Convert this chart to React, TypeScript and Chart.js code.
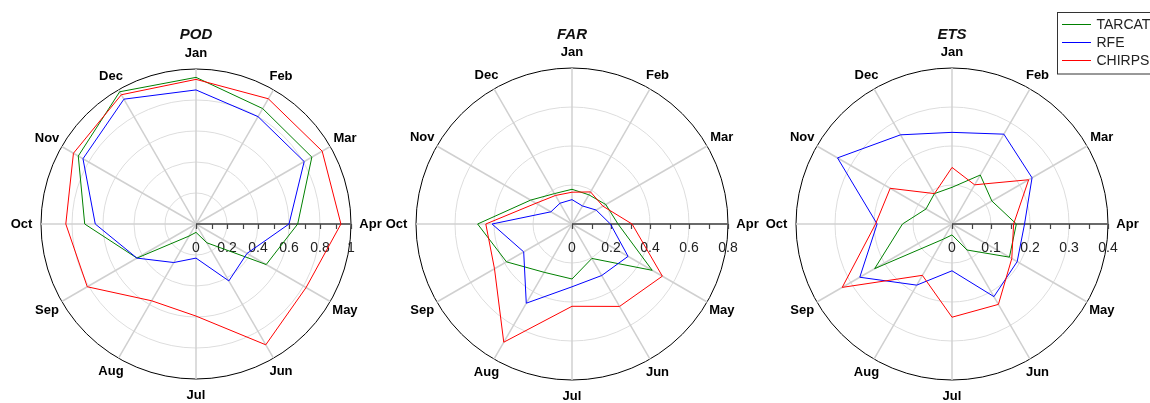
import React, { useEffect, useRef } from 'react';
import { Chart, registerables } from 'chart.js';

Chart.register(...registerables);

// ---------- data ----------
const MONTHS = ['Jan', 'Feb', 'Mar', 'Apr', 'May', 'Jun', 'Jul', 'Aug', 'Sep', 'Oct', 'Nov', 'Dec'];
const SERIES_NAMES = ['TARCAT', 'RFE', 'CHIRPS'];
const SERIES_COLORS = ['#008000', '#0000ff', '#ff0000'];

const POD_TARCAT = [0.946, 0.86, 0.863, 0.656, 0.523, 0.14, 0.054, 0.09, 0.44, 0.718, 0.877, 0.985];
const POD_RFE = [0.865, 0.8, 0.806, 0.6, 0.38, 0.424, 0.22, 0.287, 0.44, 0.65, 0.842, 0.93];
const POD_CHIRPS = [0.933, 0.933, 0.94, 0.935, 0.82, 0.9, 0.594, 0.572, 0.81, 0.84, 0.913, 0.963];

const FAR_TARCAT = [0.178, 0.173, 0.2, 0.236, 0.475, 0.204, 0.282, 0.286, 0.388, 0.484, 0.245, 0.18];
const FAR_RFE = [0.125, 0.107, 0.143, 0.197, 0.332, 0.305, 0.322, 0.469, 0.286, 0.41, 0.125, 0.123];
const FAR_CHIRPS = [0.163, 0.19, 0.183, 0.308, 0.535, 0.488, 0.422, 0.7, 0.459, 0.442, 0.213, 0.169];

const ETS_TARCAT = [0.094, 0.145, 0.118, 0.165, 0.17, 0.077, 0.028, 0.045, 0.229, 0.127, 0.077, 0.09];
const ETS_RFE = [0.235, 0.266, 0.237, 0.186, 0.193, 0.215, 0.12, 0.181, 0.273, 0.192, 0.339, 0.264];
const ETS_CHIRPS = [0.145, 0.116, 0.227, 0.158, 0.177, 0.238, 0.239, 0.152, 0.325, 0.196, 0.183, 0.09];

const POD_TICKS = [0, 0.2, 0.4, 0.6, 0.8, 1];
const POD_TICK_LABELS = ['0', '0.2', '0.4', '0.6', '0.8', '1'];
const FAR_TICKS = [0, 0.2, 0.4, 0.6, 0.8];
const FAR_TICK_LABELS = ['0', '0.2', '0.4', '0.6', '0.8'];
const ETS_TICKS = [0, 0.1, 0.2, 0.3, 0.4];
const ETS_TICK_LABELS = ['0', '0.1', '0.2', '0.3', '0.4'];

// ---------- layout / style ----------
const FONT_FAMILY = "Arial, 'Liberation Sans', sans-serif";
const CANVAS_H = 448;
const SIDE_PAD = 44;
// distance of month-label centres beyond the outer circle, by |angle| step (0°,30°,60°,90°)
const LABEL_OFFSETS = [16, 15, 17, 19.5];

const PANELS = [
  { title: 'POD', series: [POD_TARCAT, POD_RFE, POD_CHIRPS], ticks: POD_TICKS, tickLabels: POD_TICK_LABELS, minor: 0.1, cx: 196, R: 155, legend: false },
  { title: 'FAR', series: [FAR_TARCAT, FAR_RFE, FAR_CHIRPS], ticks: FAR_TICKS, tickLabels: FAR_TICK_LABELS, minor: 0.1, cx: 572, R: 156, legend: false },
  { title: 'ETS', series: [ETS_TARCAT, ETS_RFE, ETS_CHIRPS], ticks: ETS_TICKS, tickLabels: ETS_TICK_LABELS, minor: 0.05, cx: 952, R: 156, legend: true },
];

function geometry(p: any) {
  const left = p.cx - p.R - SIDE_PAD;
  const width = p.legend ? 1150 - left : 2 * p.R + 2 * SIDE_PAD;
  const padR = width - SIDE_PAD - 2 * p.R;
  return { left, width, padL: SIDE_PAD, padR };
}

const radarDecor = {
  id: 'radarDecor',
  beforeDatasetsDraw(chart: any, _args: any, opts: any) {
    const s = chart.scales.r;
    const ctx = chart.ctx;
    const cx = s.xCenter;
    const cy = s.yCenter;
    ctx.save();
    // radial axis along the Apr direction
    ctx.strokeStyle = '#444';
    ctx.lineWidth = 1.5;
    ctx.beginPath();
    ctx.moveTo(cx, cy);
    ctx.lineTo(cx + s.drawingArea, cy);
    ctx.stroke();
    ctx.lineWidth = 1.2;
    ctx.beginPath();
    const n = Math.round(s.max / opts.minor);
    for (let i = 0; i <= n; i++) {
      const x = Math.round(cx + s.getDistanceFromCenterForValue(i * opts.minor)) + 0.5;
      ctx.moveTo(x, cy);
      ctx.lineTo(x, cy + 5);
    }
    ctx.stroke();
    ctx.fillStyle = '#222';
    ctx.font = `14px ${FONT_FAMILY}`;
    ctx.textAlign = 'center';
    ctx.textBaseline = 'middle';
    opts.ticks.forEach((v: number, i: number) => {
      ctx.fillText(opts.labels[i], cx + s.getDistanceFromCenterForValue(v), cy + 24);
    });
    // month labels
    ctx.fillStyle = '#000';
    ctx.font = `bold 13px ${FONT_FAMILY}`;
    chart.data.labels.forEach((lab: string, i: number) => {
      const k = i % 6;
      const off = LABEL_OFFSETS[Math.min(k, 6 - k)];
      const pos = s.getPointPosition(i, s.drawingArea + off);
      ctx.fillText(lab, pos.x, pos.y);
    });
    ctx.restore();
  },
  afterDraw(chart: any, _args: any, opts: any) {
    const s = chart.scales.r;
    const ctx = chart.ctx;
    ctx.save();
    ctx.fillStyle = '#111';
    ctx.font = `italic bold 15px ${FONT_FAMILY}`;
    ctx.textAlign = 'center';
    ctx.textBaseline = 'middle';
    ctx.fillText(opts.title, s.xCenter, 35);
    if (opts.legendX != null) {
      const x = opts.legendX;
      ctx.strokeStyle = '#333';
      ctx.lineWidth = 1;
      ctx.strokeRect(x + 0.5, 12.5, 200, 61.5);
      const ys = [23.7, 42, 60.3];
      chart.data.datasets.forEach((d: any, i: number) => {
        ctx.strokeStyle = d.borderColor;
        ctx.beginPath();
        ctx.moveTo(x + 5, Math.round(ys[i]) + 0.5);
        ctx.lineTo(x + 34, Math.round(ys[i]) + 0.5);
        ctx.stroke();
        ctx.fillStyle = '#222';
        ctx.font = `14px ${FONT_FAMILY}`;
        ctx.textAlign = 'left';
        ctx.textBaseline = 'middle';
        ctx.fillText(d.label, x + 39.5, ys[i] + 1);
      });
    }
    ctx.restore();
  },
};

export default function App() {
  const refs = [useRef<HTMLCanvasElement>(null), useRef<HTMLCanvasElement>(null), useRef<HTMLCanvasElement>(null)];
  const geos = PANELS.map(geometry);

  useEffect(() => {
    const charts = PANELS.map((p, k) => {
      const g = geos[k];
      const max = p.ticks[p.ticks.length - 1];
      return new Chart(refs[k].current!, {
        type: 'radar',
        data: {
          labels: MONTHS,
          datasets: p.series.map((vals, i) => ({
            label: SERIES_NAMES[i],
            data: vals,
            borderColor: SERIES_COLORS[i],
            backgroundColor: SERIES_COLORS[i],
            borderWidth: 1,
            fill: false,
            pointRadius: 0,
            order: 3 - i,
          })),
        },
        options: {
          animation: false,
          responsive: false,
          maintainAspectRatio: false,
          layout: { padding: { left: g.padL, right: g.padR, top: 0, bottom: 0 } },
          plugins: {
            legend: { display: false },
            title: { display: false },
            tooltip: { enabled: false },
            radarDecor: {
              title: p.title,
              ticks: p.ticks,
              labels: p.tickLabels,
              minor: p.minor,
              legendX: p.legend ? 1057 - g.left : null,
            },
          } as any,
          elements: { line: { tension: 0 } },
          scales: {
            r: {
              min: 0,
              max,
              startAngle: 0,
              afterBuildTicks: (scale: any) => {
                scale.ticks = p.ticks.map((v) => ({ value: v }));
              },
              ticks: { display: false },
              grid: {
                circular: true,
                lineWidth: 1,
                color: (c: any) => (c.tick && c.tick.value >= max - 1e-9 ? '#000' : '#dddddd'),
              },
              angleLines: { color: '#d0d0d0', lineWidth: 1.5 },
              pointLabels: { display: false },
            } as any,
          },
        },
        plugins: [radarDecor as any],
      });
    });
    return () => charts.forEach((c) => c.destroy());
  }, []);

  return (
    <div style={{ position: 'absolute', left: 0, top: 0, width: 1150, height: 403, overflow: 'hidden', background: '#fff' }}>
      {PANELS.map((p, k) => (
        <canvas
          key={p.title}
          ref={refs[k]}
          width={geos[k].width}
          height={CANVAS_H}
          style={{ position: 'absolute', left: geos[k].left, top: 0, width: geos[k].width, height: CANVAS_H }}
        />
      ))}
    </div>
  );
}
